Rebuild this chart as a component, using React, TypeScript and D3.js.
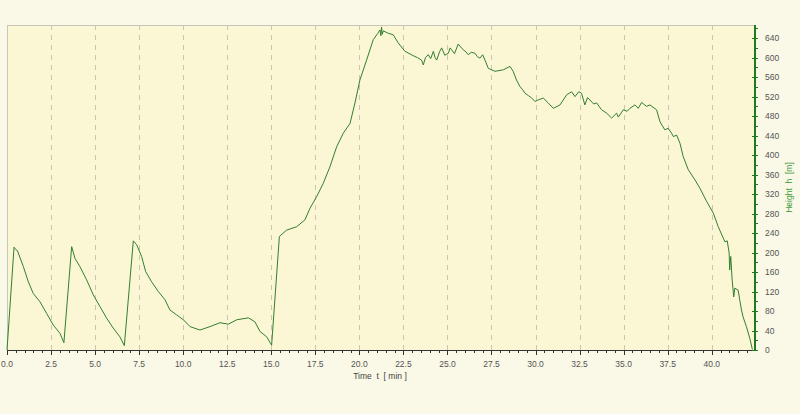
import React from "react";
import * as d3 from "d3";

const timeMin: number[] = [
  0, 0.4, 0.5, 0.59, 0.93, 1.21, 1.49, 1.87, 2.25, 2.63, 3.01, 3.23,
  3.67, 3.86, 4.14, 4.52, 4.9, 5.28, 5.66, 6.03, 6.41, 6.66,
  7.17, 7.36, 7.64, 7.87, 8.21, 8.59, 8.97, 9.25, 9.63, 10.01, 10.39,
  10.95, 11.52, 12.09, 12.56, 13.04, 13.7, 14.07, 14.36, 14.74, 15.02,
  15.46, 15.87, 16.44, 16.91, 17.2, 17.58, 17.95, 18.33, 18.71, 19.09, 19.47,
  19.75, 20.03, 20.41, 20.79, 21.05, 21.17, 21.22, 21.26, 21.3, 21.36, 21.64, 21.92, 22.21,
  22.59, 23.06, 23.3, 23.53, 23.63, 23.75, 23.91, 24.05, 24.2, 24.3, 24.39, 24.55, 24.67, 24.85, 25.05, 25.15, 25.24, 25.4, 25.61,
  25.75, 25.9, 26.05, 26.18, 26.35, 26.56, 26.7, 26.84, 27.0, 27.13, 27.32, 27.7, 28.17, 28.55, 28.73, 28.92,
  29.11, 29.25, 29.4, 29.6, 29.78, 29.97, 30.2, 30.44, 30.72, 31.01, 31.39, 31.77, 32.05, 32.24,
  32.45, 32.61, 32.8, 32.95, 33.09, 33.3, 33.47, 33.75, 34.04, 34.32, 34.6, 34.7, 34.98, 35.2, 35.36,
  35.64, 35.83, 36.02, 36.3, 36.49, 36.87, 37.06, 37.2, 37.34, 37.53, 37.72, 37.82,
  38.01, 38.2, 38.38, 38.67, 39.05, 39.33, 39.71, 40.09, 40.37, 40.75, 40.88,
  40.99, 41.02, 41.08, 41.16, 41.25, 41.31, 41.5, 41.59, 41.69, 41.78, 41.97,
  42.16, 42.31
];

const heightM: number[] = [
  0, 211, 206, 204, 171, 140, 116, 99, 75, 51, 34, 15,
  212, 188, 171, 144, 113, 89, 65, 45, 27, 9,
  224, 216, 192, 161, 140, 120, 103, 82, 72, 62, 48,
  41, 48, 56, 53, 62, 66, 58, 38, 27, 10,
  233, 246, 253, 267, 291, 315, 342, 376, 417, 445, 465,
  507, 554, 595, 637, 650, 657, 645, 663, 648, 655, 650, 647, 630,
  613, 604, 600, 595, 585, 600, 606, 598, 613, 600, 595, 612, 620, 605, 609, 620, 616, 608, 628,
  622, 616, 612, 606, 611, 609, 602, 599, 606, 595, 578, 572, 575, 582, 572, 554,
  541, 535, 527, 522, 517, 510, 514, 517, 507, 496, 503, 524, 530, 520,
  530, 527, 503, 518, 513, 505, 507, 493, 486, 476, 486, 478, 493, 490, 496,
  503, 496, 508, 500, 503, 493, 469, 460, 452, 455, 445, 438,
  441, 424, 397, 370, 349, 332, 305, 281, 253, 222, 224,
  199, 164, 192, 144, 109, 127, 123, 103, 82, 68, 48,
  24, 1
];

const xTickLabels: string[] = ["0.0", "2.5", "5.0", "7.5", "10.0", "12.5", "15.0", "17.5", "20.0", "22.5", "25.0", "27.5", "30.0", "32.5", "35.0", "37.5", "40.0"];
const yTickLabels: string[] = ["0", "40", "80", "120", "160", "200", "240", "280", "320", "360", "400", "440", "480", "520", "560", "600", "640"];

const W = 800;
const H = 414;
const left = 7;
const right = 754;
const top = 25;
const bottom = 350;

export default function App() {
  const x = d3.scaleLinear().domain([0, 42.4]).range([left, right]);
  const y = d3.scaleLinear().domain([0, 667]).range([bottom, top]);
  const pts: [number, number][] = timeMin.map((t, i) => [t, heightM[i]]);
  const line = d3
    .line<[number, number]>()
    .x((d) => x(d[0]))
    .y((d) => y(d[1]));

  const xMinor = d3.range(0, 42.4, 0.5);
  const yMinor = d3.range(0, 667, 20);
  const font = "'Liberation Sans', Arial, sans-serif";

  return (
    <svg
      width={W}
      height={H}
      style={{ position: "absolute", left: 0, top: 0, display: "block" }}
    >
      <rect x={0} y={0} width={W} height={H} fill="#faf8e6" />
      <rect x={left} y={top} width={right - left} height={bottom - top} fill="#fbf6d3" />
      <line x1={left} x2={right} y1={top + 0.5} y2={top + 0.5} stroke="#c8c6b4" strokeWidth={1} />
      <line x1={left + 0.5} x2={left + 0.5} y1={top} y2={bottom} stroke="#c8c6b4" strokeWidth={1} />
      {xTickLabels.map((lab) => {
        const v = +lab;
        const px = Math.round(x(v)) + 0.5;
        return v > 0 ? (
          <line key={"g" + lab} x1={px} x2={px} y1={top} y2={bottom} stroke="#c9c6b6" strokeWidth={1} strokeDasharray="5,5" />
        ) : null;
      })}
      <path d={line(pts) || ""} fill="none" stroke="#337f33" strokeWidth={1} strokeLinejoin="round" />
      {/* bottom axis */}
      <line x1={left} x2={right} y1={bottom + 0.5} y2={bottom + 0.5} stroke="#333" strokeWidth={1} />
      {xMinor.map((v) => {
        const px = Math.round(x(v)) + 0.5;
        const major = Math.abs(v / 2.5 - Math.round(v / 2.5)) < 1e-6;
        return <line key={"xt" + v} x1={px} x2={px} y1={bottom} y2={bottom + (major ? 5 : 3)} stroke="#333" strokeWidth={1} />;
      })}
      {xTickLabels.map((lab) => (
        <text key={"xl" + lab} x={x(+lab)} y={367} textAnchor="middle" fontFamily={font} fontSize={8.5} fill="#555">
          {lab}
        </text>
      ))}
      <text x={380} y={379} textAnchor="middle" fontFamily={font} fontSize={8.5} fill="#444" style={{ whiteSpace: "pre" }}>
        {"Time  t  [ min ]"}
      </text>
      {/* right axis */}
      <line x1={right + 1} x2={right + 1} y1={top} y2={bottom + 1} stroke="#1e7a1e" strokeWidth={2} />
      {yMinor.map((v) => {
        const py = Math.round(y(v)) + 0.5;
        const major = v % 40 === 0;
        return <line key={"yt" + v} x1={major ? right - 2 : right} x2={right + 4} y1={py} y2={py} stroke="#1e7a1e" strokeWidth={1} />;
      })}
      {yTickLabels.map((lab) => (
        <text key={"yl" + lab} x={765} y={y(+lab) + 3} textAnchor="start" fontFamily={font} fontSize={8.5} fill="#555">
          {lab}
        </text>
      ))}
      <text
        x={0}
        y={0}
        transform={`translate(792, ${(top + bottom) / 2}) rotate(-90)`}
        textAnchor="middle"
        fontFamily={font}
        fontSize={8.5}
        fill="#3a9a3a"
        style={{ whiteSpace: "pre" }}
      >
        {"Height  h  [m]"}
      </text>
    </svg>
  );
}
